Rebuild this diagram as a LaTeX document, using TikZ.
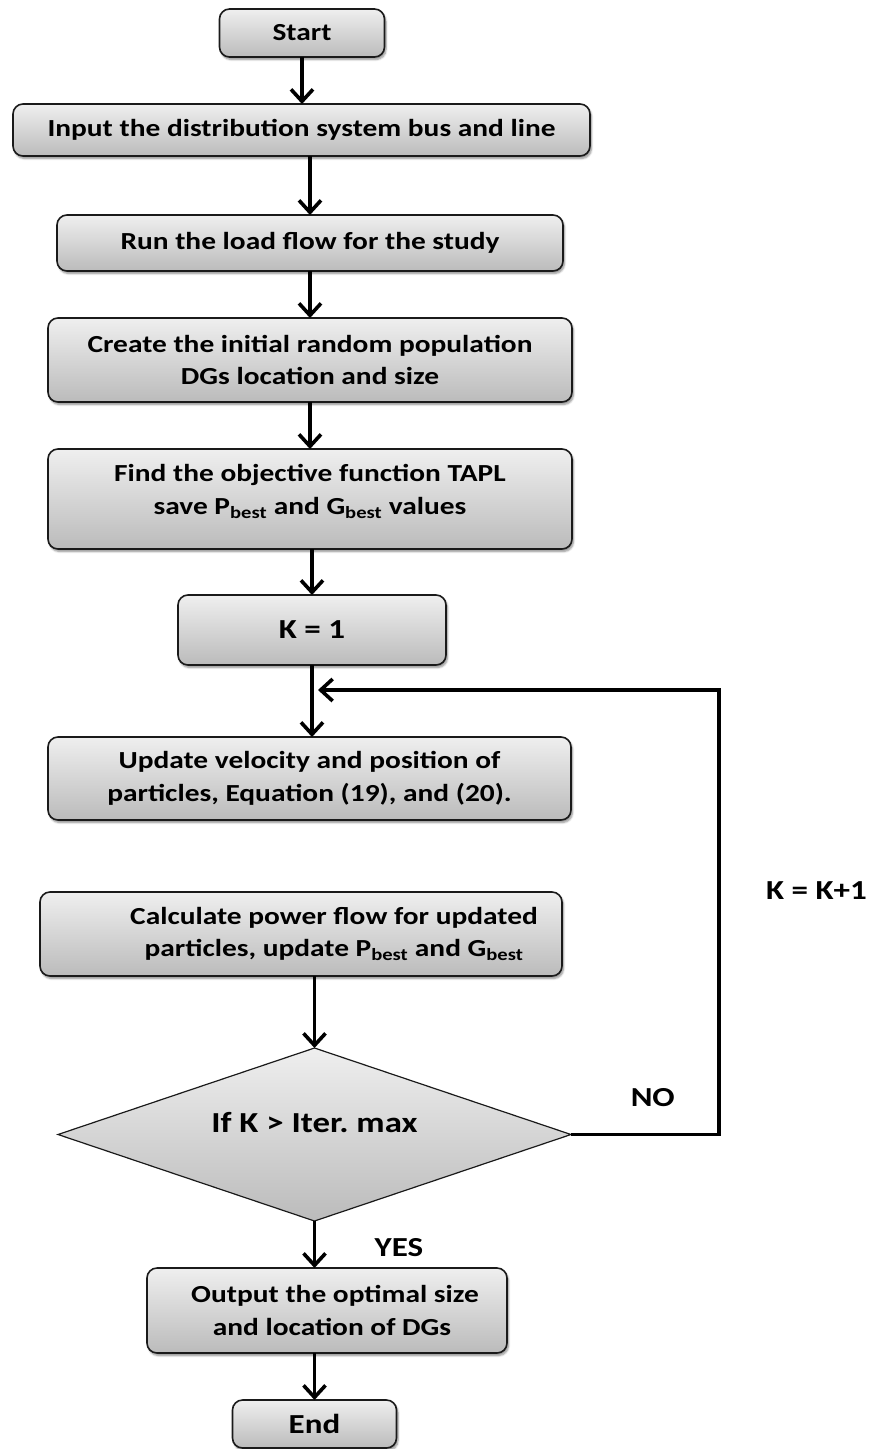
\documentclass[tikz,border=0pt]{standalone}
\usepackage{fontspec}
\setmainfont{Carlito}[FakeStretch=1.2]
\usepackage{tikz}
\usepackage{xcolor}
\definecolor{boxTop}{HTML}{EFEFEF}
\definecolor{boxBottom}{HTML}{BBBBBB}
\definecolor{boxLine}{HTML}{1A1A1A}
\usetikzlibrary{shapes.geometric, arrows.meta, positioning, shadows.blur}

\begin{document}
\begin{tikzpicture}[
    x=1pt, y=1pt,
    node distance=47pt,
    every node/.style={font=\fontsize{24.5}{32.5}\selectfont\bfseries},
    stepbox/.style={rectangle, rounded corners=10pt, draw=boxLine, line width=1.6pt, outer sep=0pt, top color=boxTop, bottom color=boxBottom, align=center, inner sep=0pt, blur shadow={shadow xshift=1.5pt, shadow yshift=-2.5pt, shadow blur steps=6, shadow opacity=45}},
    decide/.style={diamond, draw=boxLine, line width=1.2pt, outer sep=0pt, top color=boxTop, bottom color=boxBottom, aspect=2.97, inner sep=0pt, minimum width=513pt, minimum height=173pt, text depth=25pt, font=\fontsize{29}{34}\selectfont\bfseries},
    lbl/.style={inner sep=0pt, font=\fontsize{27.5}{32}\selectfont\bfseries},
    bigtxt/.style={font=\fontsize{27.5}{32}\selectfont\bfseries},
    arrow_main/.style={-{Straight Barb[length=12pt, width=22pt]}, line width=3.6pt},
]
\useasboundingbox (0,0) rectangle (873,-1449);

% ====== MAIN FLOW ======
\node[stepbox, minimum width=165pt, minimum height=48pt] (start) at (302,-33) {Start};
\node[stepbox, minimum width=577pt, minimum height=52pt, below=47pt of start, xshift=-0.5pt] (in_data) {Input the distribution system bus and line};
\node[stepbox, minimum width=506pt, minimum height=56pt, below=59pt of in_data, xshift=8.5pt] (run_flow) {Run the load flow for the study};
\node[stepbox, minimum width=524pt, minimum height=84pt, below=47pt of run_flow] (init_pop) {Create the initial random population\\DGs location and size};
\node[stepbox, minimum width=524pt, minimum height=100pt, below=47pt of init_pop, text depth=19pt] (obj_func) {Find the objective function TAPL\\save P\textsubscript{best} and G\textsubscript{best} values};
\node[stepbox, bigtxt, minimum width=268pt, minimum height=70pt, below=46pt of obj_func, xshift=2pt] (k_init) {K = 1};
\node[stepbox, minimum width=523pt, minimum height=83pt, below=72pt of k_init, xshift=-2.5pt] (upd_vel) {Update velocity and position of\\particles, Equation (19), and (20).};
\node[stepbox, minimum width=522pt, minimum height=84pt, below=72pt of upd_vel, xshift=-8.5pt] (calc_flow) {\hspace*{66pt}Calculate power flow for updated\\\hspace*{66pt}particles, update P\textsubscript{best} and G\textsubscript{best}};
\node[decide, below=72pt of calc_flow, xshift=13.5pt] (check_iter) {If K > Iter.\ max};
\node[stepbox, minimum width=360pt, minimum height=85pt, below=47pt of check_iter, xshift=12.5pt] (out_res) {\hspace*{16pt}Output the optimal size\\\hspace*{10pt}and location of DGs};
\node[stepbox, bigtxt, minimum width=164pt, minimum height=48pt, below=47pt of out_res, xshift=-12.5pt] (stop) {End};

% --- loop points ---
\coordinate[right=148pt of check_iter.east] (loop_corner);
\coordinate[below=25pt of k_init.south, xshift=6pt] (loop_join);

% --- arrows ---
\draw[arrow_main] (start) -- (start |- in_data.north);
\draw[arrow_main] (in_data.south -| run_flow) -- (run_flow);
\draw[arrow_main] (run_flow) -- (init_pop);
\draw[arrow_main] (init_pop) -- (obj_func);
\draw[arrow_main] (obj_func.south -| k_init) -- (k_init);
\draw[arrow_main] (k_init) -- (k_init |- upd_vel.north);
\draw[arrow_main] (calc_flow.south -| check_iter) -- (check_iter);
\draw[arrow_main] (check_iter) -- (check_iter |- out_res.north);
\draw[arrow_main] (out_res.south -| stop) -- (stop);
\draw[arrow_main] (check_iter.east) -- (loop_corner) |- (loop_join);

% --- labels ---
\node[lbl, left=44pt of loop_corner, yshift=37pt] (lbl_no) {NO};
\node[lbl, right=60pt of check_iter.south, yshift=-27pt] (lbl_yes) {YES};
\node[lbl, right=47pt of loop_corner, yshift=244pt] (lbl_next) {K = K+1};

\end{tikzpicture}
\end{document}
